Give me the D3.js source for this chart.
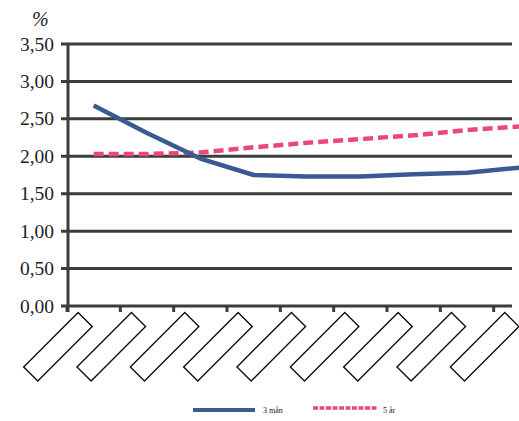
<!DOCTYPE html>
<html><head><meta charset="utf-8">
<script src="https://cdn.jsdelivr.net/npm/d3@7"></script>
<style>html,body{margin:0;padding:0;background:#fff;}svg{display:block;}</style>
</head><body>
<script>
// Data (x-axis labels in the reference are blank boxes)
const categories = ["c1","c2","c3","c4","c5","c6","c7","c8","c9"];
const rate3m = [2.68, 2.31, 1.97, 1.75, 1.73, 1.73, 1.76, 1.78, 1.85];
const rate5y = [2.03, 2.03, 2.05, 2.12, 2.18, 2.23, 2.28, 2.35, 2.40];
const yTicks = [0, 0.5, 1, 1.5, 2, 2.5, 3, 3.5];
const seriesNames = ["3 mån", "5 år"];

const W = 519, H = 421;
const svg = d3.select("body").append("svg").attr("width", W).attr("height", H);

const x = d3.scaleBand().domain(categories).range([67, 547]);
const y = d3.scaleLinear().domain([0, 3.5]).range([306, 44]);
const axisColor = "#3a3d3c";

// gridlines
svg.append("g").selectAll("line").data(yTicks).join("line")
  .attr("x1", 61).attr("x2", 512)
  .attr("y1", d => y(d)).attr("y2", d => y(d))
  .attr("stroke", axisColor).attr("stroke-width", 3);

// y axis line
svg.append("line").attr("x1", 68).attr("x2", 68).attr("y1", y(3.5) - 1).attr("y2", 312)
  .attr("stroke", axisColor).attr("stroke-width", 3);

// x ticks
svg.append("g").selectAll("line").data(categories).join("line")
  .attr("x1", d => x(d)).attr("x2", d => x(d))
  .attr("y1", 306).attr("y2", 312)
  .attr("stroke", axisColor).attr("stroke-width", 3);

// y labels
svg.append("g").selectAll("text").data(yTicks).join("text")
  .attr("x", 54).attr("y", d => y(d) + 6.5)
  .attr("text-anchor", "end")
  .attr("font-family", "Liberation Serif, Times New Roman, serif")
  .attr("font-size", 19.5).attr("fill", "#222")
  .text(d => d3.format(".2f")(d).replace(".", ","));

svg.append("text").attr("x", 32).attr("y", 26)
  .attr("font-family", "Liberation Serif, Times New Roman, serif")
  .attr("font-style", "italic")
  .attr("font-size", 20).attr("fill", "#222").text("%");

// blank rotated label boxes
svg.append("g").selectAll("g").data(categories).join("g")
  .attr("transform", d => `translate(${x(d) + x.bandwidth() / 2 - 8.5},319.5) rotate(-45)`)
  .append("rect")
  .attr("x", -77).attr("y", -10).attr("width", 77).attr("height", 20)
  .attr("fill", "#fff").attr("stroke", "#111").attr("stroke-width", 1.4);

const cx = d => x(d) + x.bandwidth() / 2;
const line = d3.line().x(d => cx(d[0])).y(d => y(d[1]));

svg.append("path").datum(categories.map((c, i) => [c, rate5y[i]]))
  .attr("d", line).attr("fill", "none")
  .attr("stroke", "#e8497c").attr("stroke-width", 4.5)
  .attr("stroke-dasharray", "10,5").attr("stroke-linecap", "butt");

svg.append("path").datum(categories.map((c, i) => [c, rate3m[i]]))
  .attr("d", line).attr("fill", "none")
  .attr("stroke", "#3b5a92").attr("stroke-width", 4.5)
  .attr("stroke-linejoin", "round");

// legend
const lg = svg.append("g");
lg.append("line").attr("x1", 193).attr("x2", 255).attr("y1", 410).attr("y2", 410)
  .attr("stroke", "#3b5a92").attr("stroke-width", 4);
lg.append("text").attr("x", 263).attr("y", 413)
  .attr("font-family", "Liberation Serif, serif").attr("font-size", 8).attr("fill", "#222")
  .text(seriesNames[0]);
lg.append("line").attr("x1", 313).attr("x2", 377).attr("y1", 408).attr("y2", 408)
  .attr("stroke", "#e8497c").attr("stroke-width", 3.5).attr("stroke-dasharray", "5,1.5");
lg.append("text").attr("x", 383).attr("y", 413)
  .attr("font-family", "Liberation Serif, serif").attr("font-size", 8).attr("fill", "#222")
  .text(seriesNames[1]);
</script>
</body></html>
